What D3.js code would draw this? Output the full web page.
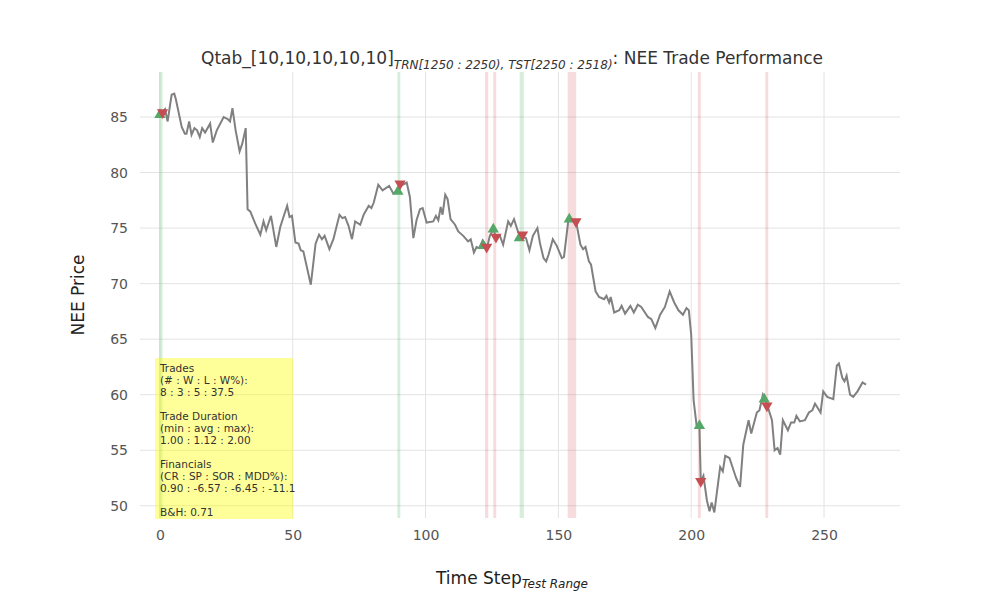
<!DOCTYPE html>
<html><head><meta charset="utf-8">
<script src="https://cdn.jsdelivr.net/npm/d3@7"></script>
<style>body{margin:0;background:#fff;font-family:"DejaVu Sans",sans-serif;}</style>
</head><body><svg id="chart" width="1000" height="600"></svg>
<script>
// price path (time step, price)
var steps = [0,1.9,2.9,4.4,5.4,6,8.2,9.4,10,11,11.9,13,14,15,15.9,17,18.9,19.9,21.4,24,25.6,26.4,27.3,28.5,30,31,32.3,33,34,35.9,37.8,39,40,41.8,43.8,45.3,46.5,47.9,48.8,49.7,51,52.2,53,54,56.8,58.6,59.9,61,62,63.8,65.3,67.6,68.7,69.7,71,72.3,73.5,75.4,76.7,78.6,79.6,80.5,82.2,83.8,86.3,87.9,89.7,90.6,92.9,94.1,95.4,96.6,97.9,98.9,100.4,102.9,103.9,104.8,105.7,106.4,107.4,108.3,109.4,111.1,112.3,114.2,116,117,118.2,119.2,120.2,121.5,122.3,123.2,124.2,125.5,126.5,128,129.2,131.1,132.1,133.3,134.9,136.1,137.8,139.1,140.4,142.1,143.1,144.4,145.4,146.3,147.9,149.4,151.3,152.1,153.8,155.7,156.8,158.3,159.3,160.2,161.5,162.3,164,165.3,167.2,168.1,169.1,169.7,171,172.9,173.8,175.1,177.1,178.4,179.9,181.2,183.7,185,186.5,188.3,190.1,191.9,193.6,195.2,196.9,198.2,199.1,200,200.9,202.1,203.1,203.6,204.6,205.9,206.9,207.7,208.7,210.9,211.9,212.8,214.4,216.9,218.4,219.6,221.6,222.6,224.7,225.7,227,228.3,230.4,231.4,232.5,233.5,234.5,236.4,237.6,238.8,239.6,240.9,242.8,244.3,245.6,246.6,248.7,249.7,251.2,253.5,254.8,255.6,256.9,257.7,258.5,259.8,261,262.6,264.5,265.8];
var prices = [85.2,85.7,84.6,87.0,87.1,86.6,84.1,83.5,83.5,84.6,83.4,84.0,83.8,83.2,84.0,83.6,84.4,82.7,83.8,85.0,84.8,84.6,85.8,83.8,81.9,82.6,84.0,76.7,76.5,75.4,74.4,75.6,74.8,76.1,73.3,75.1,76.0,77.0,76.0,76.1,73.7,73.6,73.0,72.9,69.9,73.6,74.4,74.0,74.3,73.1,74.0,76.2,75.9,76.0,75.2,74.0,75.6,75.3,76.2,77.0,76.8,77.3,78.9,78.4,78.8,78.1,78.3,78.8,79.1,77.8,74.1,75.7,76.7,76.8,75.5,75.6,76.1,75.7,76.9,76.2,78.0,77.6,75.8,75.3,74.7,74.3,73.8,74.0,72.8,73.3,73.2,73.9,73.6,73.3,74.3,74.9,74.2,74.3,73.5,75.6,75.2,75.8,74.6,74.2,74.1,73.0,74.3,75.0,73.6,72.3,72.0,72.6,74.0,73.4,72.3,72.4,75.8,75.6,75.4,73.5,73.1,73.3,72.0,71.7,69.3,68.8,68.6,68.9,68.3,68.8,67.4,67.6,68.0,67.3,68.0,67.4,68.1,67.9,67.0,66.8,66.0,67.2,67.9,69.3,68.3,67.6,67.2,67.8,67.6,65.4,59.5,57.1,57.1,52.2,52.7,50.5,49.5,50.3,49.4,53.5,53.1,54.5,54.3,52.5,51.7,55.5,57.7,56.5,58.4,58.6,60.0,59.3,57.7,55.0,55.2,54.6,57.7,56.8,57.5,57.5,58.1,57.6,57.7,58.4,58.6,59.2,58.4,60.3,59.8,59.6,62.6,62.8,61.5,61.2,61.7,60.0,59.8,60.3,61.1,60.9];
// trades
var buySteps = [0,89.6,121.7,125.5,135.3,154.1,203.1,227.5];
var buyPrices = [85.2,78.3,73.4,74.9,74.1,75.8,57.2,59.6];
var sellSteps = [1,90.4,123,126.5,136.5,156.6,203.6,228.5];
var sellPrices = [85.4,79.0,73.3,74.2,74.4,75.6,52.2,59.0];
// shaded holding bands [start, end]
var greenBands = [[-0.3,1],[89.4,90.5],[135.4,137]];
var redBands = [[122.4,123.6],[125.5,126.6],[153.5,156.7],[202.5,203.6],[227.9,229]];
var xTicks = [0,50,100,150,200,250];
var yTicks = [50,55,60,65,70,75,80,85];
var statLines = ["Trades","(# : W : L : W%):","8 : 3 : 5 : 37.5","","Trade Duration","(min : avg : max):","1.00 : 1.12 : 2.00","","Financials","(CR : SP : SOR : MDD%):","0.90 : -6.57 : -6.45 : -11.1","","B&H: 0.71"];

var svg = d3.select("#chart");
var pLeft = 140, pRight = 900, pTop = 72, pBottom = 518;
var x = d3.scaleLinear().domain([-7.5, 278.6]).range([pLeft, pRight]);
var y = d3.scaleLinear().domain([48.9, 89.05]).range([pBottom, pTop]);

// grid
svg.append("g").selectAll("line").data(xTicks).enter().append("line")
  .attr("x1", d => x(d)).attr("x2", d => x(d)).attr("y1", pTop).attr("y2", pBottom)
  .attr("stroke", "#e3e3e3").attr("stroke-width", 1);
svg.append("g").selectAll("line").data(yTicks).enter().append("line")
  .attr("y1", d => y(d)).attr("y2", d => y(d)).attr("x1", pLeft).attr("x2", pRight)
  .attr("stroke", "#e3e3e3").attr("stroke-width", 1);

// bands
svg.append("g").selectAll("rect").data(greenBands).enter().append("rect")
  .attr("x", d => x(d[0])).attr("width", d => x(d[1]) - x(d[0]))
  .attr("y", pTop).attr("height", pBottom - pTop).attr("fill", "rgba(60,170,80,0.2)");
svg.append("g").selectAll("rect").data(redBands).enter().append("rect")
  .attr("x", d => x(d[0])).attr("width", d => x(d[1]) - x(d[0]))
  .attr("y", pTop).attr("height", pBottom - pTop).attr("fill", "rgba(210,80,80,0.2)");

// stats box
svg.append("rect").attr("x", 155).attr("y", 358).attr("width", 138).attr("height", 161)
  .attr("fill", "rgba(255,255,0,0.4)");
svg.append("g").selectAll("text").data(statLines).enter().append("text")
  .attr("x", 160).attr("y", (d, i) => 372 + i * 12)
  .attr("font-size", 10.5).attr("fill", "#333").text(d => d);

// price line
var pts = steps.map((s, i) => [s, prices[i]]);
svg.append("path").datum(pts)
  .attr("d", d3.line().x(d => x(d[0])).y(d => y(d[1])))
  .attr("fill", "none").attr("stroke", "#808080").attr("stroke-width", 2);

// markers
var tri = d3.symbol().type(d3.symbolTriangle).size(55);
svg.append("g").selectAll("path").data(buySteps).enter().append("path")
  .attr("d", tri).attr("fill", "#55a868")
  .attr("transform", (d, i) => "translate(" + x(d) + "," + y(buyPrices[i]) + ")");
svg.append("g").selectAll("path").data(sellSteps).enter().append("path")
  .attr("d", tri).attr("fill", "#c44e52")
  .attr("transform", (d, i) => "translate(" + x(d) + "," + y(sellPrices[i]) + ") rotate(180)");

// axes (labels only)
var xAxis = svg.append("g").attr("transform", "translate(0," + pBottom + ")")
  .call(d3.axisBottom(x).tickValues(xTicks).tickSize(0).tickPadding(12));
var yAxis = svg.append("g").attr("transform", "translate(" + pLeft + ",0)")
  .call(d3.axisLeft(y).tickValues(yTicks).tickSize(0).tickPadding(12));
[xAxis, yAxis].forEach(function (a) {
  a.select(".domain").remove();
  a.selectAll("text").attr("font-size", 14).attr("fill", "#555").attr("font-family", "DejaVu Sans");
});

// titles
var t = svg.append("text").attr("x", 512).attr("y", 64).attr("text-anchor", "middle")
  .attr("font-size", 17).attr("fill", "#333");
t.append("tspan").text("Qtab_[10,10,10,10,10]");
t.append("tspan").attr("dy", 5).attr("font-size", 12).attr("font-style", "italic")
  .text("TRN[1250 : 2250), TST[2250 : 2518)");
t.append("tspan").attr("dy", -5).text(": NEE Trade Performance");

var xl = svg.append("text").attr("x", 512).attr("y", 584).attr("text-anchor", "middle")
  .attr("font-size", 17).attr("fill", "#222");
xl.append("tspan").text("Time Step");
xl.append("tspan").attr("dy", 4).attr("font-size", 12).attr("font-style", "italic").text("Test Range");

svg.append("text").attr("transform", "translate(84,295) rotate(-90)").attr("text-anchor", "middle")
  .attr("font-size", 17).attr("fill", "#222").text("NEE Price");
</script></body></html>
